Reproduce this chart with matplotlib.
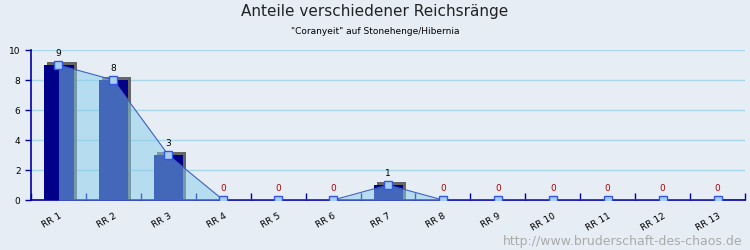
import numpy as np
import matplotlib
matplotlib.use("Agg")
import matplotlib.pyplot as plt
from matplotlib import transforms

categories = ["RR 1", "RR 2", "RR 3", "RR 4", "RR 5", "RR 6", "RR 7",
              "RR 8", "RR 9", "RR 10", "RR 11", "RR 12", "RR 13"]
counts = [9, 8, 3, 0, 0, 0, 1, 0, 0, 0, 0, 0, 0]

bg = "#e6edf5"
navy = "#000088"
axis_col = "#0000a0"

fig = plt.figure(figsize=(7.5, 2.5), dpi=100, facecolor=bg)
ax = fig.add_axes([31 / 750, 0.2, 714 / 750, 0.6])
ax.set_facecolor(bg)

x = np.arange(len(categories))
w = 0.53

# 3d-ish shadow behind bars: shifted 3px right, raised 3px on top
shadow_up = transforms.offset_copy(ax.transData, fig=fig, x=3, y=3, units="dots")
shadow_right = transforms.offset_copy(ax.transData, fig=fig, x=3, y=0, units="dots")
for xi, v in zip(x, counts):
    if v > 0:
        ax.bar(xi + 0.01, v, width=w, color="#666666", transform=shadow_up, zorder=2)
        ax.bar(xi + 0.01, v, width=w, color="#666666", transform=shadow_right, zorder=2)
ax.bar(x + 0.01, counts, width=w, color=navy, zorder=3)

# area + line
ax.fill_between(x, counts, 0, color="skyblue", alpha=0.5, lw=0, zorder=4)
ax.plot(x, counts, color="#4060c0", lw=0.8, zorder=5)
ax.plot(x, counts, ls="none", marker="s", ms=5.5, mfc="#a8cff0", mec="#3355ee",
        mew=1, zorder=6)

for xi, v in zip(x, counts):
    ax.annotate(str(v), (xi, v), xytext=(0, 5), textcoords="offset points",
                ha="center", va="bottom", fontsize=6.5,
                color="black" if v > 0 else "#b00000", zorder=7)

ax.set_xlim(-0.5, len(categories) - 0.5)
ax.set_ylim(0, 10)
ax.set_yticks([0, 2, 4, 6, 8, 10])
ax.yaxis.grid(True, color="#a8d8e8", lw=1)
ax.set_axisbelow(True)

ax.set_xticks(np.arange(len(categories) + 1) - 0.5)
ax.set_xticklabels([])
ax.set_xticks(x, minor=True)
ax.set_xticklabels(categories, minor=True, rotation=30, ha="right",
                   rotation_mode="anchor", fontsize=6.5)
ax.tick_params(axis="x", which="major", direction="in", length=5,
               color=axis_col, width=1)
ax.tick_params(axis="x", which="minor", length=0, pad=8)
ax.tick_params(axis="y", direction="out", length=4, color=axis_col,
               labelsize=6.5, width=1)

for s in ["top", "right"]:
    ax.spines[s].set_visible(False)
for s in ["left", "bottom"]:
    ax.spines[s].set_color(axis_col)
    ax.spines[s].set_linewidth(1.2)

fig.text(0.5, 0.955, "Anteile verschiedener Reichsränge", ha="center",
         va="center", fontsize=11, color="#222222")
fig.text(0.5, 0.875, "\"Coranyeit\" auf Stonehenge/Hibernia", ha="center",
         va="center", fontsize=6.5, color="black")
fig.text(0.99, 0.035, "http://www.bruderschaft-des-chaos.de", ha="right",
         va="center", fontsize=9, color="#aaaaaa")

fig.savefig("out.png", dpi=100, facecolor=bg)
